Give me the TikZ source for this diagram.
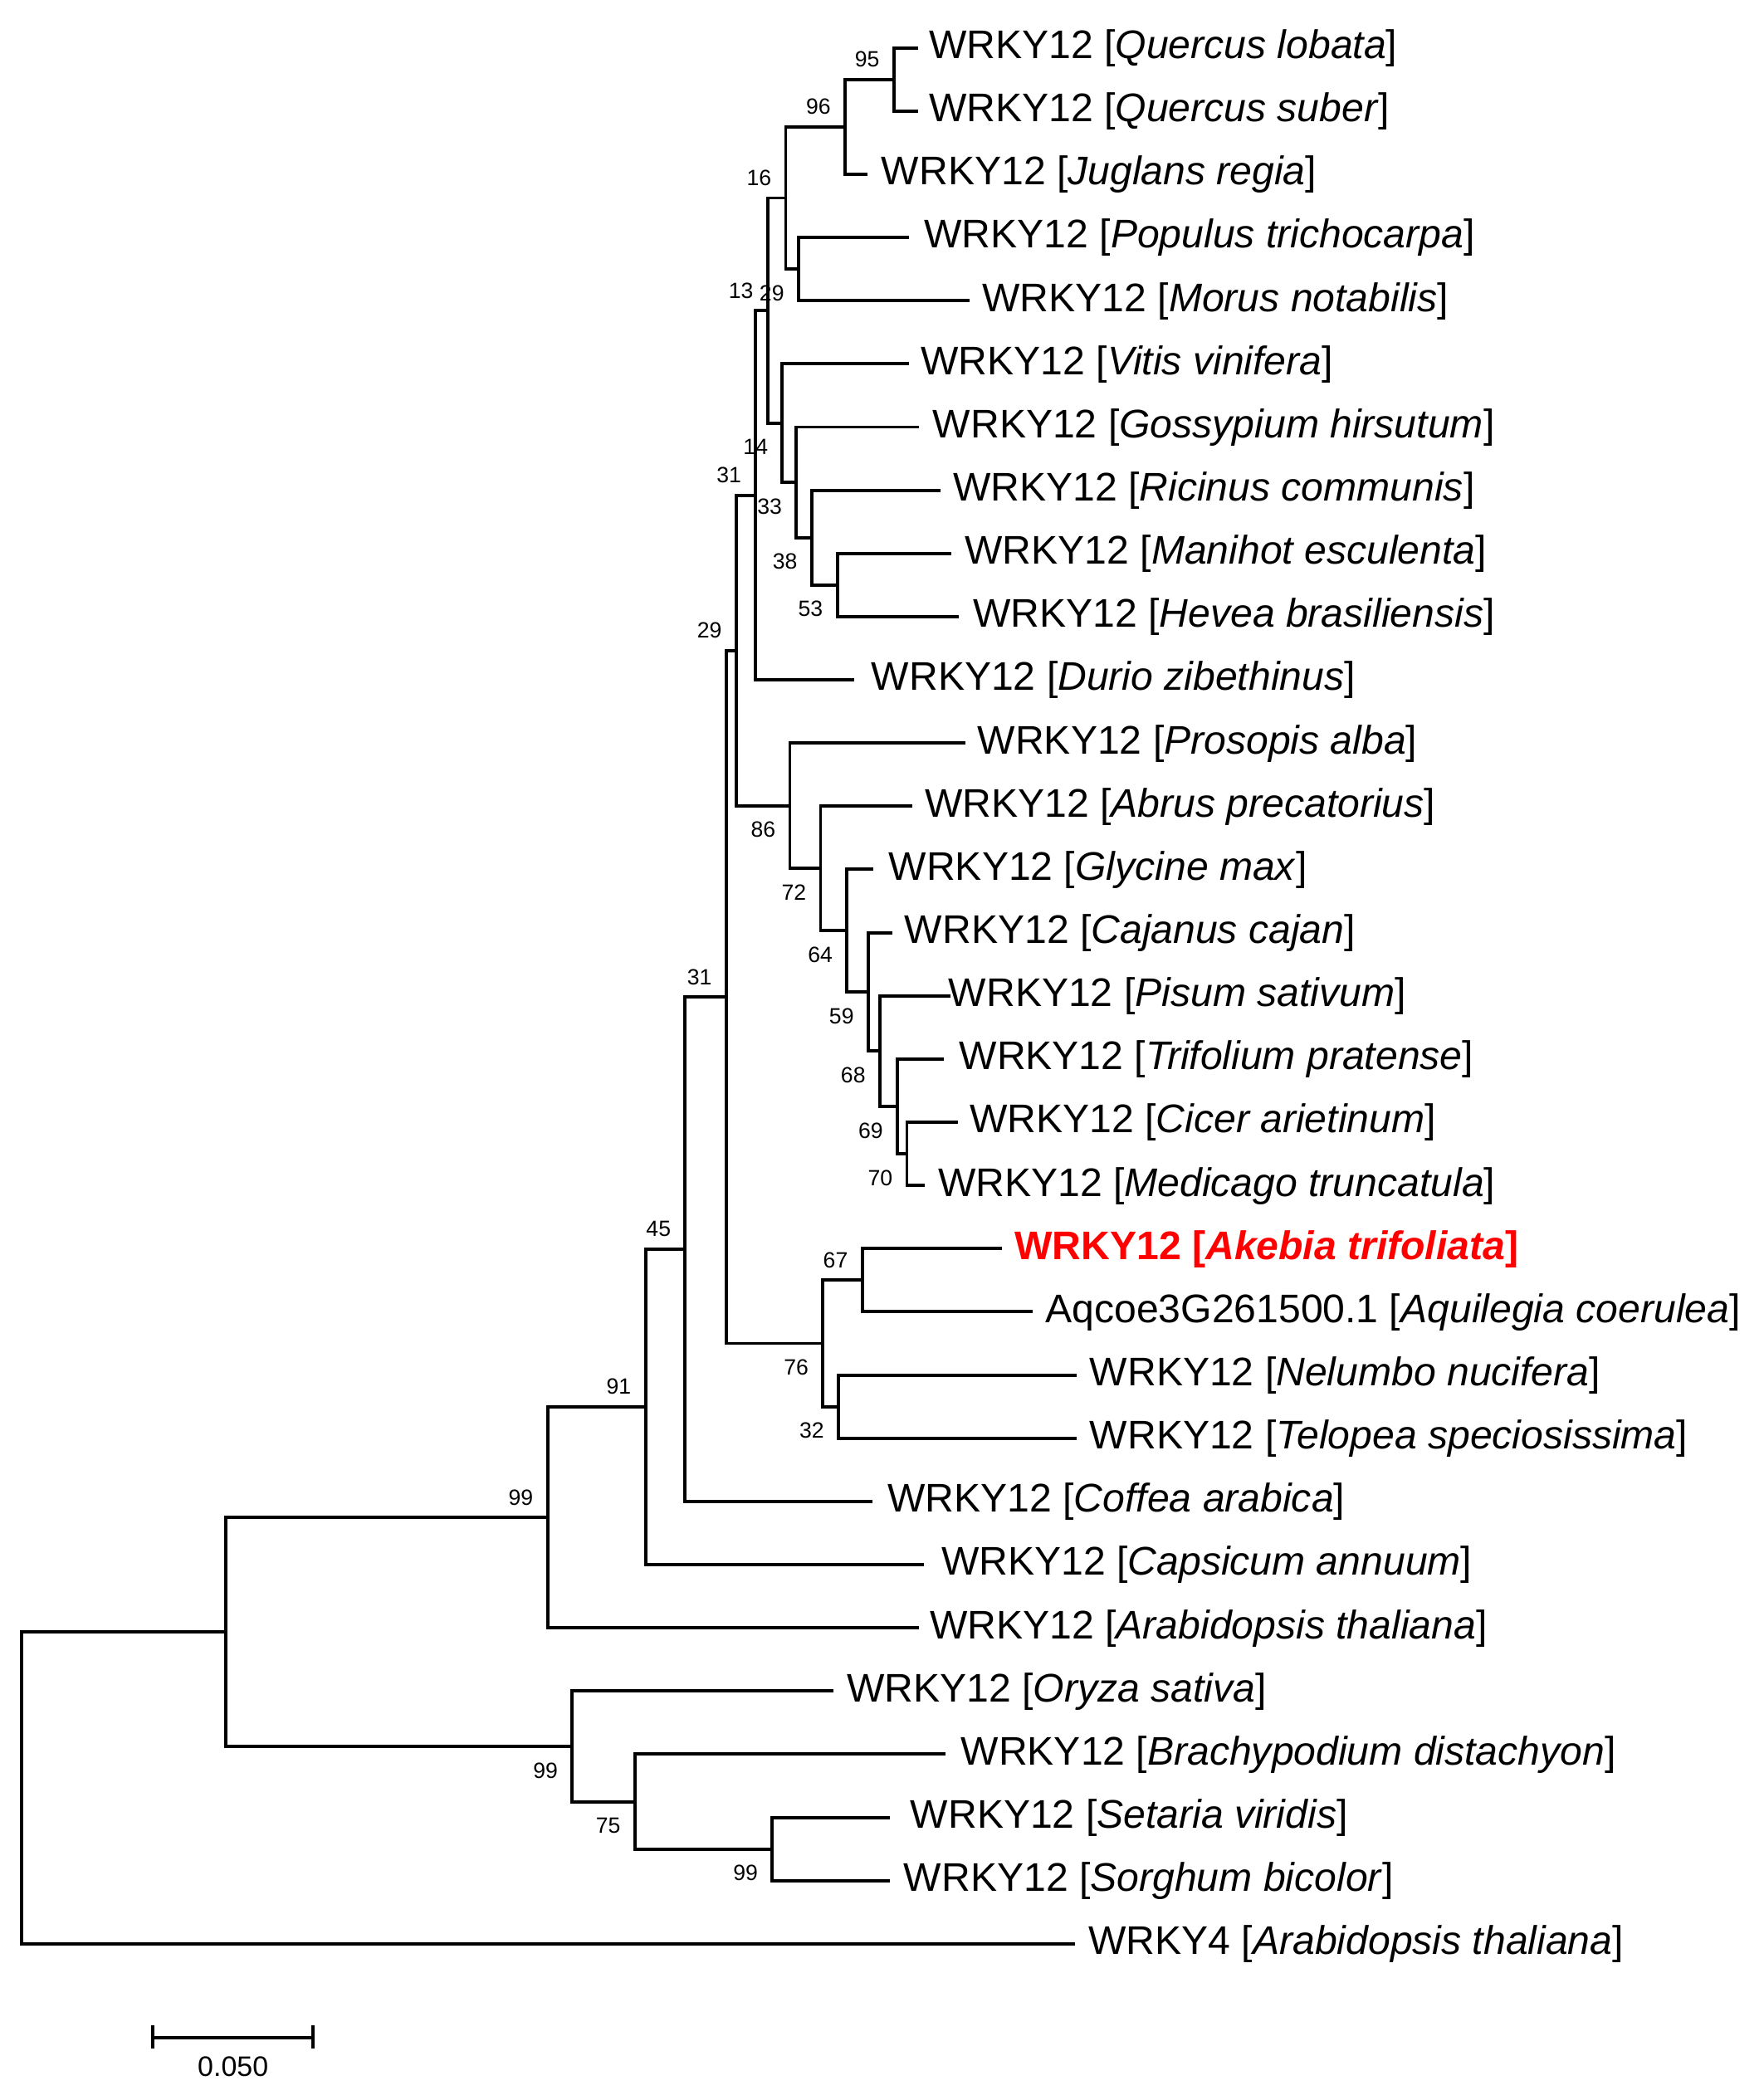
\documentclass[tikz,border=0pt]{standalone}
\usepackage{fontspec}
\setmainfont{Liberation Sans}
\usetikzlibrary{calc}
\newcommand\bsA[2]{\node[bs] (b#1) at ($(#1)+(-20,-15)$) {#2};}
\newcommand\bsB[2]{\node[bs] (b#1) at ($(#1)+(-20,18)$) {#2};}
\begin{document}
\begin{tikzpicture}[x=0.01cm,y=-0.01cm,
  br/.style={line width=0.7pt,line join=miter},
  lf/.style={anchor=base west,inner sep=0pt,font=\fontsize{8.5}{10}\selectfont},
  bs/.style={inner sep=0pt,font=\fontsize{4.7}{5}\selectfont},
  sc/.style={inner sep=0pt,font=\fontsize{6}{7}\selectfont}]
\useasboundingbox (0,0) rectangle (1320,1568);
% internal nodes
\coordinate (root) at (16.1,1338.05);
\coordinate (nR1) at (169.2,1221.3);
\coordinate (n99a) at (409.8,1135.6);
\coordinate (n91) at (483.1,1052.95);
\coordinate (n45) at (512.8,934.9);
\coordinate (n31b) at (543.5,746.13);
\coordinate (n29b) at (551,486.8);
\coordinate (n31a) at (565.5,370.6);
\coordinate (n13) at (574.5,232.39);
\coordinate (n16) at (588,148.14);
\coordinate (n96) at (632.5,94.93);
\coordinate (n95) at (669,59.45);
\coordinate (n29a) at (597.6,201.35);
\coordinate (n14) at (585.5,316.64);
\coordinate (n33) at (596,360.99);
\coordinate (n38) at (607.5,402.38);
\coordinate (n53) at (626.6,437.85);
\coordinate (n86) at (591.1,603.03);
\coordinate (n72) at (614.1,649.96);
\coordinate (n64) at (633.9,696.52);
\coordinate (n59) at (649.8,742.35);
\coordinate (n68) at (658.5,786.69);
\coordinate (n69) at (671.6,828.08);
\coordinate (n70) at (678.7,863.55);
\coordinate (n76) at (615.8,1005.45);
\coordinate (n67) at (645.3,958.15);
\coordinate (n32) at (627.5,1052.75);
\coordinate (n99b) at (428.2,1307.0);
\coordinate (n75) at (475.2,1348.4);
\coordinate (n99c) at (578,1383.85);
% leaf ends
\coordinate (l0) at (686.8,35.8);
\coordinate (l1) at (686.8,83.1);
\coordinate (l2) at (649,130.4);
\coordinate (l3) at (680,177.7);
\coordinate (l4) at (725.3,225.0);
\coordinate (l5) at (680,272.3);
\coordinate (l6) at (688,319.6);
\coordinate (l7) at (703.9,366.9);
\coordinate (l8) at (711.8,414.2);
\coordinate (l9) at (717.7,461.5);
\coordinate (l10) at (639.5,508.8);
\coordinate (l11) at (722.3,556.1);
\coordinate (l12) at (682.7,603.4);
\coordinate (l13) at (653.8,650.7);
\coordinate (l14) at (667.6,698.0);
\coordinate (l15) at (711.3,745.3);
\coordinate (l16) at (706.5,792.6);
\coordinate (l17) at (717.2,839.9);
\coordinate (l18) at (692.2,887.2);
\coordinate (l19) at (749.7,934.5);
\coordinate (l20) at (772.6,981.8);
\coordinate (l21) at (805.8,1029.1);
\coordinate (l22) at (805.8,1076.4);
\coordinate (l23) at (653,1123.7);
\coordinate (l24) at (691.3,1171.0);
\coordinate (l25) at (688,1218.3);
\coordinate (l26) at (623.9,1265.6);
\coordinate (l27) at (707.3,1312.9);
\coordinate (l28) at (666,1360.2);
\coordinate (l29) at (666,1407.5);
\coordinate (l30) at (804.3,1454.8);
% branches
\draw[br] (root) |- (nR1); \draw[br] (root) |- (l30);
\draw[br] (nR1) |- (n99a); \draw[br] (nR1) |- (n99b);
\draw[br] (n99a) |- (n91); \draw[br] (n99a) |- (l25);
\draw[br] (n91) |- (n45); \draw[br] (n91) |- (l24);
\draw[br] (n45) |- (n31b); \draw[br] (n45) |- (l23);
\draw[br] (n31b) |- (n29b); \draw[br] (n31b) |- (n76);
\draw[br] (n29b) |- (n31a); \draw[br] (n29b) |- (n86);
\draw[br] (n31a) |- (n13); \draw[br] (n31a) |- (l10);
\draw[br] (n13) |- (n16); \draw[br] (n13) |- (n14);
\draw[br] (n16) |- (n96); \draw[br] (n16) |- (n29a);
\draw[br] (n96) |- (n95); \draw[br] (n96) |- (l2);
\draw[br] (n95) |- (l0); \draw[br] (n95) |- (l1);
\draw[br] (n29a) |- (l3); \draw[br] (n29a) |- (l4);
\draw[br] (n14) |- (l5); \draw[br] (n14) |- (n33);
\draw[br] (n33) |- (l6); \draw[br] (n33) |- (n38);
\draw[br] (n38) |- (l7); \draw[br] (n38) |- (n53);
\draw[br] (n53) |- (l8); \draw[br] (n53) |- (l9);
\draw[br] (n86) |- (l11); \draw[br] (n86) |- (n72);
\draw[br] (n72) |- (l12); \draw[br] (n72) |- (n64);
\draw[br] (n64) |- (l13); \draw[br] (n64) |- (n59);
\draw[br] (n59) |- (l14); \draw[br] (n59) |- (n68);
\draw[br] (n68) |- (l15); \draw[br] (n68) |- (n69);
\draw[br] (n69) |- (l16); \draw[br] (n69) |- (n70);
\draw[br] (n70) |- (l17); \draw[br] (n70) |- (l18);
\draw[br] (n76) |- (n67); \draw[br] (n76) |- (n32);
\draw[br] (n67) |- (l19); \draw[br] (n67) |- (l20);
\draw[br] (n32) |- (l21); \draw[br] (n32) |- (l22);
\draw[br] (n99b) |- (l26); \draw[br] (n99b) |- (n75);
\draw[br] (n75) |- (l27); \draw[br] (n75) |- (n99c);
\draw[br] (n99c) |- (l28); \draw[br] (n99c) |- (l29);
% bootstrap values
\bsA{n95}{95} \bsA{n96}{96} \bsA{n16}{16} \bsA{n13}{13}
\bsB{n29a}{29} \bsB{n14}{14} \bsA{n31a}{31} \bsB{n33}{33}
\bsB{n38}{38} \bsB{n53}{53} \bsA{n29b}{29} \bsB{n86}{86}
\bsB{n72}{72} \bsB{n64}{64} \bsB{n59}{59} \bsB{n68}{68}
\bsB{n69}{69} \bsB{n70}{70} \bsA{n31b}{31} \bsA{n67}{67}
\bsA{n45}{45} \bsB{n76}{76} \bsB{n32}{32} \bsA{n91}{91}
\bsA{n99a}{99} \bsB{n99b}{99} \bsB{n75}{75} \bsB{n99c}{99}
% leaf labels
\node[lf] (t0) at (694.5,43.8) {WRKY12 [\textit{Quercus lobata}]};
\node[lf] (t1) at (694.5,91.1) {WRKY12 [\textit{Quercus suber}]};
\node[lf] (t2) at (659,138.4) {WRKY12 [\textit{Juglans regia}]};
\node[lf] (t3) at (691,185.7) {WRKY12 [\textit{Populus trichocarpa}]};
\node[lf] (t4) at (734.5,233.0) {WRKY12 [\textit{Morus notabilis}]};
\node[lf] (t5) at (688.5,280.3) {WRKY12 [\textit{Vitis vinifera}]};
\node[lf] (t6) at (697.5,327.6) {WRKY12 [\textit{Gossypium hirsutum}]};
\node[lf] (t7) at (712.5,374.9) {WRKY12 [\textit{Ricinus communis}]};
\node[lf] (t8) at (721.5,422.2) {WRKY12 [\textit{Manihot esculenta}]};
\node[lf] (t9) at (727.5,469.5) {WRKY12 [\textit{Hevea brasiliensis}]};
\node[lf] (t10) at (651.5,516.8) {WRKY12 [\textit{Durio zibethinus}]};
\node[lf] (t11) at (731,564.1) {WRKY12 [\textit{Prosopis alba}]};
\node[lf] (t12) at (691.4,611.4) {WRKY12 [\textit{Abrus precatorius}]};
\node[lf] (t13) at (664.5,658.7) {WRKY12 [\textit{Glycine max}]};
\node[lf] (t14) at (676.4,706.0) {WRKY12 [\textit{Cajanus cajan}]};
\node[lf] (t15) at (709.3,753.3) {WRKY12 [\textit{Pisum sativum}]};
\node[lf] (t16) at (717.2,800.6) {WRKY12 [\textit{Trifolium pratense}]};
\node[lf] (t17) at (725.1,847.9) {WRKY12 [\textit{Cicer arietinum}]};
\node[lf] (t18) at (701.3,895.2) {WRKY12 [\textit{Medicago truncatula}]};
\node[lf,text=red,font=\fontsize{8.5}{10}\selectfont\bfseries] (t19) at (758.7,942.5) {WRKY12 [\textit{Akebia trifoliata}]};
\node[lf] (t20) at (781.7,989.8) {Aqcoe3G261500.1 [\textit{Aquilegia coerulea}]};
\node[lf] (t21) at (814.9,1037.1) {WRKY12 [\textit{Nelumbo nucifera}]};
\node[lf] (t22) at (814.9,1084.4) {WRKY12 [\textit{Telopea speciosissima}]};
\node[lf] (t23) at (663.6,1131.7) {WRKY12 [\textit{Coffea arabica}]};
\node[lf] (t24) at (703.9,1179.0) {WRKY12 [\textit{Capsicum annuum}]};
\node[lf] (t25) at (695.2,1226.3) {WRKY12 [\textit{Arabidopsis thaliana}]};
\node[lf] (t26) at (633.1,1273.6) {WRKY12 [\textit{Oryza sativa}]};
\node[lf] (t27) at (718.5,1320.9) {WRKY12 [\textit{Brachypodium distachyon}]};
\node[lf] (t28) at (680.7,1368.2) {WRKY12 [\textit{Setaria viridis}]};
\node[lf] (t29) at (675.8,1415.5) {WRKY12 [\textit{Sorghum bicolor}]};
\node[lf] (t30) at (814,1462.8) {WRKY4 [\textit{Arabidopsis thaliana}]};
% scale bar
\coordinate (sb1) at (114.2,1525);
\coordinate (sb2) at (234.1,1525);
\draw[br] (sb1) -- (sb2);
\draw[br] ($(sb1)+(0,-9)$) -- ($(sb1)+(0,8)$);
\draw[br] ($(sb2)+(0,-9)$) -- ($(sb2)+(0,8)$);
\node[sc] (sblabel) at (174.4,1547) {0.050};
\end{tikzpicture}
\end{document}
